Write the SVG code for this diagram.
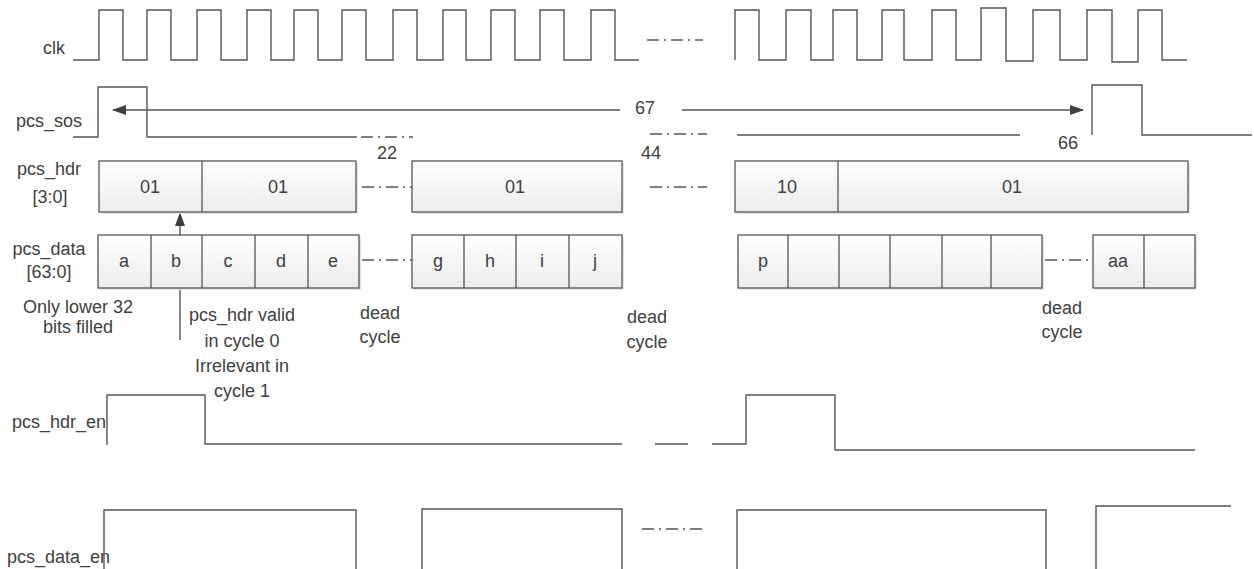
<svg xmlns="http://www.w3.org/2000/svg" width="1254" height="569" viewBox="0 0 1254 569">
<style>
.w{fill:none;stroke:#555;stroke-width:1.4}
.dd{fill:none;stroke:#555;stroke-width:1.3;stroke-dasharray:12,5,2,5}
.t{font-family:"Liberation Sans",Arial,sans-serif;font-size:18px;fill:#404040}
.m{text-anchor:middle}
.box{fill:url(#g);stroke:#555;stroke-width:1.3}
.sh{fill:#e4e4e4}
.dv{stroke:#555;stroke-width:1.3}
</style>
<defs>
<linearGradient id="g" x1="0" y1="0" x2="0" y2="1"><stop offset="0" stop-color="#ffffff"/><stop offset="1" stop-color="#ececec"/></linearGradient>
<marker id="ah" viewBox="0 0 14 10" refX="13" refY="5" markerWidth="14" markerHeight="10" markerUnits="userSpaceOnUse" orient="auto-start-reverse"><path d="M0,0 L14,5 L0,10 Z" fill="#404040"/></marker>
</defs>
<rect width="1254" height="569" fill="#fff"/>

<g id="labels">
<text class="t m" x="54" y="54">clk</text>
<text class="t m" x="49" y="127">pcs_sos</text>
<text class="t m" x="49" y="175">pcs_hdr</text>
<text class="t m" x="50" y="203">[3:0]</text>
<text class="t m" x="49" y="255">pcs_data</text>
<text class="t m" x="49" y="278">[63:0]</text>
<text class="t" x="12" y="428">pcs_hdr_en</text>
<text class="t" x="7" y="563">pcs_data_en</text>
</g>

<g id="clk">
<path class="w" d="M73,60 H99 V10 H123 V60 H147 V10 H171 V60 H197 V10 H221 V60 H247 V10 H271 V60 H294 V10 H318 V60 H342 V10 H366 V60 H393 V10 H417 V60 H443 V10 H466 V60 H491 V10 H515 V60 H540 V10 H564 V60 H591 V10 H615 V60 H639"/>
<line class="dd" x1="647" y1="40" x2="703" y2="40"/>
<path class="w" d="M735,60 V10 H759 V60 H786 V10 H811 V60 H833 V10 H857 V60 H882 V10 H904 V60 H932 V10 H956 V60 H981 V8 H1006 V61 H1033 V10 H1060 V60 H1087 V10 H1112 V62 H1138 V10 H1162 V60 H1187"/>
</g>

<g id="pcs_sos">
<path class="w" d="M73,137 H98 V87 H147 V137 H357"/>
<line class="dd" x1="361" y1="137" x2="413" y2="137"/>
<line class="dd" x1="650" y1="134" x2="707" y2="134"/>
<line class="w" x1="737" y1="135" x2="1020" y2="135"/>
<path class="w" d="M1092,135 V85 H1142 V135 H1252"/>
<text class="t m" x="387" y="159">22</text>
<text class="t m" x="651" y="159">44</text>
<text class="t m" x="1068" y="149">66</text>
</g>

<g id="connectors">
<line class="w" x1="113" y1="110" x2="620" y2="110" marker-start="url(#ah)"/>
<line class="w" x1="682" y1="110" x2="1083" y2="110" marker-end="url(#ah)"/>
<text class="t m" x="645" y="114">67</text>
<line class="w" x1="180" y1="340" x2="180" y2="213" marker-end="url(#ah)"/>
</g>

<g id="pcs_hdr">
<rect class="sh" x="101" y="163" width="257" height="51"/>
<rect class="box" x="99" y="161" width="257" height="51"/>
<line class="dv" x1="202" y1="161" x2="202" y2="212"/>
<text class="t m" x="150" y="193">01</text>
<text class="t m" x="278" y="193">01</text>
<line class="dd" x1="362" y1="187" x2="412" y2="187"/>
<rect class="sh" x="414" y="163" width="210" height="51"/>
<rect class="box" x="412" y="161" width="210" height="51"/>
<text class="t m" x="515" y="193">01</text>
<line class="dd" x1="650" y1="187" x2="707" y2="187"/>
<rect class="sh" x="737" y="163" width="453" height="51"/>
<rect class="box" x="735" y="161" width="453" height="51"/>
<line class="dv" x1="838" y1="161" x2="838" y2="212"/>
<text class="t m" x="787" y="193">10</text>
<text class="t m" x="1012" y="193">01</text>
</g>

<g id="pcs_data">
<rect class="sh" x="100" y="237" width="261" height="53"/>
<rect class="box" x="98" y="235" width="261" height="53"/>
<line class="dv" x1="151" y1="235" x2="151" y2="288"/>
<line class="dv" x1="202" y1="235" x2="202" y2="288"/>
<line class="dv" x1="255" y1="235" x2="255" y2="288"/>
<line class="dv" x1="308" y1="235" x2="308" y2="288"/>
<text class="t m" x="124" y="267">a</text>
<text class="t m" x="176" y="267">b</text>
<text class="t m" x="228" y="267">c</text>
<text class="t m" x="281" y="267">d</text>
<text class="t m" x="333" y="267">e</text>
<line class="dd" x1="362" y1="260" x2="412" y2="260"/>
<rect class="sh" x="414" y="237" width="210" height="53"/>
<rect class="box" x="412" y="235" width="210" height="53"/>
<line class="dv" x1="464" y1="235" x2="464" y2="288"/>
<line class="dv" x1="516" y1="235" x2="516" y2="288"/>
<line class="dv" x1="569" y1="235" x2="569" y2="288"/>
<text class="t m" x="438" y="267">g</text>
<text class="t m" x="490" y="267">h</text>
<text class="t m" x="542" y="267">i</text>
<text class="t m" x="595" y="267">j</text>
<rect class="sh" x="740" y="237" width="304" height="53"/>
<rect class="box" x="738" y="235" width="304" height="53"/>
<line class="dv" x1="788" y1="235" x2="788" y2="288"/>
<line class="dv" x1="839" y1="235" x2="839" y2="288"/>
<line class="dv" x1="890" y1="235" x2="890" y2="288"/>
<line class="dv" x1="942" y1="235" x2="942" y2="288"/>
<line class="dv" x1="991" y1="235" x2="991" y2="288"/>
<text class="t m" x="763" y="267">p</text>
<line class="dd" x1="1045" y1="260" x2="1089" y2="260"/>
<rect class="sh" x="1095" y="237" width="102" height="53"/>
<rect class="box" x="1093" y="235" width="102" height="53"/>
<line class="dv" x1="1144" y1="235" x2="1144" y2="288"/>
<text class="t m" x="1118" y="267">aa</text>
</g>

<g id="notes">
<text class="t m" x="78" y="313">Only lower 32</text>
<text class="t m" x="78" y="333">bits filled</text>
<text class="t m" x="242" y="321">pcs_hdr valid</text>
<text class="t m" x="242" y="347">in cycle 0</text>
<text class="t m" x="242" y="372">Irrelevant in</text>
<text class="t m" x="242" y="397">cycle 1</text>
<text class="t m" x="380" y="319">dead</text>
<text class="t m" x="380" y="343">cycle</text>
<text class="t m" x="647" y="323">dead</text>
<text class="t m" x="647" y="348">cycle</text>
<text class="t m" x="1062" y="314">dead</text>
<text class="t m" x="1062" y="338">cycle</text>
</g>

<g id="pcs_hdr_en">
<path class="w" d="M107,445 V395 H205 V444 H622"/>
<line class="w" x1="655" y1="444" x2="688" y2="444"/>
<path class="w" d="M712,444 H746 V395 H835 V450 H1195"/>
</g>

<g id="pcs_data_en">
<path class="w" d="M104,569 V510 H356 V569"/>
<path class="w" d="M422,569 V509 H622 V569"/>
<line class="dd" x1="642" y1="529" x2="703" y2="529"/>
<path class="w" d="M737,569 V510 H1046 V569"/>
<path class="w" d="M1096,569 V506 H1231"/>
</g>
</svg>
